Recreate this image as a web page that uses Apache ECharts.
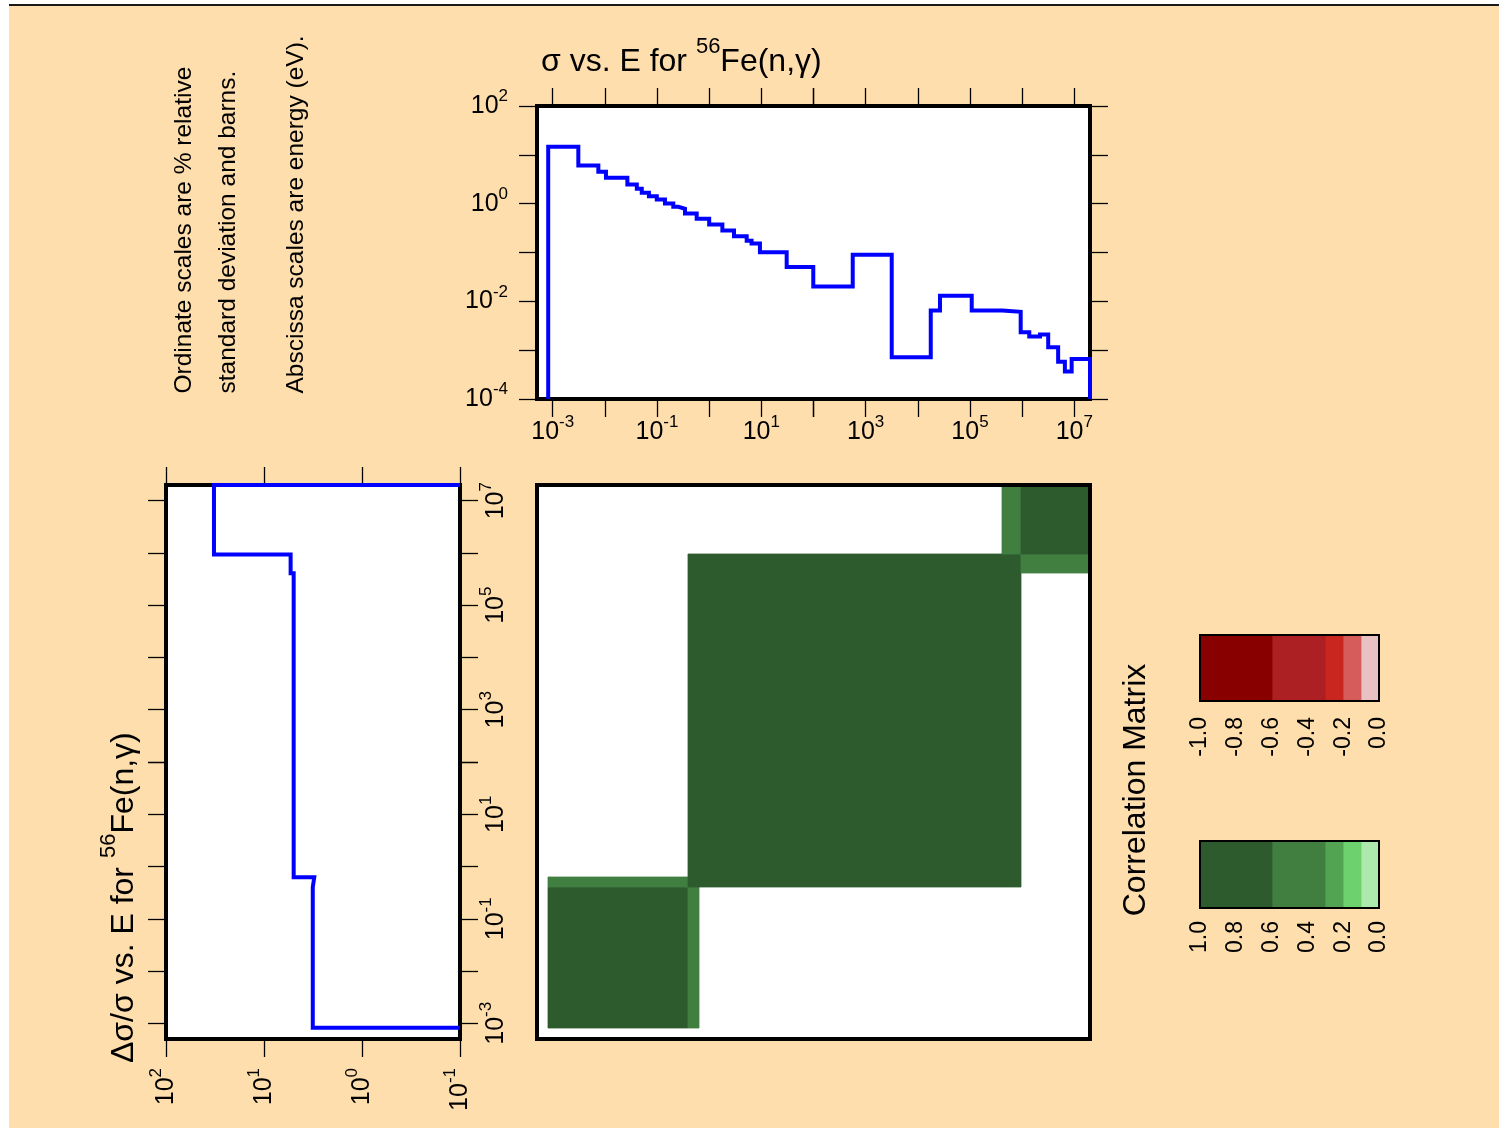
<!DOCTYPE html>
<html><head><meta charset="utf-8">
<script src="https://cdn.jsdelivr.net/npm/echarts@6/dist/echarts.min.js"></script>
<style>
html,body{margin:0;padding:0;background:#fff;}
#bg{position:absolute;left:9px;top:6px;right:0;bottom:0;background:#FFDEAD;}
#rule{position:absolute;left:9px;top:4px;right:0;height:2px;background:#1a1a1a;}
#chart{position:absolute;left:0;top:0;width:1499px;height:1128px;}
</style></head><body>
<div id="bg"></div><div id="rule"></div><div id="chart"></div>
<script>
// ---------------- data ----------------
const energyRange = [5e-4, 2e7];          // eV, shared energy axis range
const sigmaRange = [1e-4, 1e2];           // barns
const relDevRange = [0.1, 100];           // % relative std. deviation
// cross section step function (group boundaries in eV, values in barns)
const sigmaBounds = [8.2e-4, 3.1e-3, 7.5e-3, 1.05e-2, 2.7e-2, 4.1e-2, 5.1e-2, 7.0e-2, 9.9e-2, 0.142,
  0.205, 0.256, 0.344, 0.576, 1.0, 1.79, 2.99, 5.24, 6.5, 9.4, 30.6, 99, 565, 3160, 17700, 26600,
  1.08e5, 4.17e5, 9.38e5, 1.37e6, 2.2e6, 3.16e6, 4.9e6, 6.6e6, 8.9e6, 2e7];
const sigmaValues = [14.7, 6.07, 4.51, 3.39, 2.47, 2.02, 1.67, 1.42, 1.22, 1.01, 0.861, 0.784, 0.628,
  0.489, 0.373, 0.281, 0.215, 0.175, 0.152, 0.101, 0.0506, 0.0202, 0.0904, 7.18e-4, 6.5e-3, 0.013,
  6.5e-3, 6.11e-3, 2.34e-3, 1.9e-3, 2.09e-3, 1.15e-3, 5.8e-4, 3.64e-4, 6.6e-4];
// covariance group structure (eV) and relative std. deviation (%)
const groupBounds = [8.2e-4, 0.4, 0.625, 4.1e5, 9.4e5, 2e7];
const relDevValues = [3.18, 3.07, 4.98, 5.35, 32.4];
// correlation matrix (row = y group, col = x group)
const corrMatrix = [
  [1.0, 0.5, 0.0, 0.0, 0.0],
  [0.5, 1.0, 1.0, 1.0, 0.0],
  [0.0, 1.0, 1.0, 1.0, 0.0],
  [0.0, 1.0, 1.0, 1.0, 0.5],
  [0.0, 0.0, 0.0, 0.5, 1.0]
];
const corrLevels = [0, 0.1, 0.2, 0.3, 0.6, 1.0];
const greenColors = ['#ADE8AD', '#6DD16D', '#52A352', '#417F41', '#2D5B2D'];
const redColors = ['#E8C2C2', '#D65B5B', '#C8261F', '#AC1F22', '#880000'];
const decadeSpans = [[1e-3, 1e2], [1e2, 1e7]];   // helper tick ranges (each < 10 decades)
const legendTickStep = 0.2;

// ---------------- layout ----------------
const FONT = 'Liberation Sans';
const TOPBOX = {left: 537, top: 106, width: 553, height: 293};
const LEFTBOX = {left: 166, top: 485, width: 294, height: 554};
const MATBOX = {left: 537, top: 485, width: 553, height: 554};
const REDBOX = {left: 1200, top: 635, width: 179, height: 66};
const GRNBOX = {left: 1200, top: 841, width: 179, height: 67};

const L10 = Math.log10;
const eSpan = L10(energyRange[1]) - L10(energyRange[0]);
function xSub(box, lo, hi) {
  return {left: box.left + box.width * (L10(lo) - L10(energyRange[0])) / eSpan,
          width: box.width * (L10(hi) - L10(lo)) / eSpan, top: box.top, height: box.height};
}
function ySub(box, lo, hi) {
  return {top: box.top + box.height * (L10(energyRange[1]) - L10(hi)) / eSpan,
          height: box.height * (L10(hi) - L10(lo)) / eSpan, left: box.left, width: box.width};
}
function grid(box, extra) {
  return Object.assign({left: box.left, top: box.top, width: box.width, height: box.height,
    containLabel: false, outerBoundsMode: 'none', show: false}, extra || {});
}
const frameGrid = {show: true, backgroundColor: '#fff', borderColor: '#000', borderWidth: 4};

const RICH = {
  b: {fontFamily: FONT, fontSize: 25, lineHeight: 36, color: '#000'},
  s: {fontFamily: FONT, fontSize: 17, lineHeight: 17, verticalAlign: 'top', color: '#000'}
};
const tick = {show: true, inside: false, length: 18, lineStyle: {color: '#000', width: 1.3}};
function expLabel(test, margin, rotate) {
  return {show: true, margin: margin, rotate: rotate || 0, rich: RICH,
    formatter: function (v) { const e = Math.round(L10(v)); return test(e) ? '{b|10}{s|' + e + '}' : ''; }};
}
const odd = e => Math.abs(e) % 2 === 1;
const even = e => Math.abs(e) % 2 === 0;
const all = () => true;
function logAxis(gridIndex, range, extra) {
  return Object.assign({type: 'log', logBase: 10, gridIndex: gridIndex, min: range[0], max: range[1],
    axisLine: {show: false}, splitLine: {show: false}, axisTick: {show: false}, axisLabel: {show: false}}, extra || {});
}
function hidden(gridIndex) { return {type: 'value', gridIndex: gridIndex, show: false, min: 0, max: 1}; }

// ---------------- grids ----------------
const grids = [
  grid(TOPBOX, frameGrid),                                              // 0 top data
  grid(xSub(TOPBOX, decadeSpans[0][0], decadeSpans[0][1])),             // 1
  grid(xSub(TOPBOX, decadeSpans[1][0], decadeSpans[1][1])),             // 2
  grid(LEFTBOX, frameGrid),                                             // 3 left data
  grid(ySub(LEFTBOX, decadeSpans[0][0], decadeSpans[0][1])),            // 4
  grid(ySub(LEFTBOX, decadeSpans[1][0], decadeSpans[1][1])),            // 5
  grid(MATBOX, {show: true, backgroundColor: '#fff', borderWidth: 0}),  // 6 matrix
  grid(REDBOX),                                                          // 7
  grid(GRNBOX)                                                           // 8
];

const xAxes = [
  logAxis(0, energyRange),
  logAxis(1, decadeSpans[0], {position: 'bottom', axisTick: tick, axisLabel: expLabel(odd, 15)}),
  logAxis(1, decadeSpans[0], {position: 'top', axisTick: tick}),
  logAxis(2, decadeSpans[1], {position: 'bottom', axisTick: tick, axisLabel: expLabel(odd, 15)}),
  logAxis(2, decadeSpans[1], {position: 'top', axisTick: tick}),
  logAxis(3, relDevRange, {position: 'bottom', inverse: true, axisTick: tick, axisLabel: expLabel(all, 29, 90)}),
  logAxis(3, relDevRange, {position: 'top', inverse: true, axisTick: tick}),
  hidden(4),
  hidden(5),
  logAxis(6, energyRange),
  {type: 'value', gridIndex: 7, min: -1, max: 0, interval: legendTickStep, position: 'bottom',
    axisLine: {show: false}, axisTick: {show: false}, splitLine: {show: false},
    axisLabel: {show: true, rotate: 90, margin: 16, fontFamily: FONT, fontSize: 23, color: '#000',
      formatter: v => (Math.abs(v) < 1e-9 ? 0 : v).toFixed(1)}},
  {type: 'value', gridIndex: 8, min: 0, max: 1, interval: legendTickStep, inverse: true, position: 'bottom',
    axisLine: {show: false}, axisTick: {show: false}, splitLine: {show: false},
    axisLabel: {show: true, rotate: 90, margin: 13, fontFamily: FONT, fontSize: 23, color: '#000',
      formatter: v => v.toFixed(1)}}
];
const yAxes = [
  logAxis(0, sigmaRange, {position: 'left', axisTick: tick, axisLabel: expLabel(even, 29)}),
  logAxis(0, sigmaRange, {position: 'right', axisTick: tick}),
  hidden(1),
  hidden(2),
  logAxis(3, energyRange),
  logAxis(4, decadeSpans[0], {position: 'left', axisTick: tick}),
  logAxis(4, decadeSpans[0], {position: 'right', axisTick: tick, axisLabel: expLabel(odd, 18, 90)}),
  logAxis(5, decadeSpans[1], {position: 'left', axisTick: tick}),
  logAxis(5, decadeSpans[1], {position: 'right', axisTick: tick, axisLabel: expLabel(odd, 18, 90)}),
  logAxis(6, energyRange),
  hidden(7),
  hidden(8)
];

// ---------------- series data ----------------
const sigmaLine = [[sigmaBounds[0], sigmaRange[0]]];
sigmaValues.forEach((v, i) => { sigmaLine.push([sigmaBounds[i], v], [sigmaBounds[i + 1], v]); });
sigmaLine.push([sigmaBounds[sigmaBounds.length - 1], sigmaRange[0]]);

const relDevLine = [[relDevRange[0], groupBounds[0]]];
relDevValues.forEach((v, i) => { relDevLine.push([v, groupBounds[i]], [v, groupBounds[i + 1]]); });
relDevLine.push([relDevRange[0], groupBounds[groupBounds.length - 1]]);

function bandIndex(a) {
  for (let k = corrLevels.length - 2; k >= 0; k--) if (a >= corrLevels[k]) return k;
  return 0;
}
function corrColor(v) { const k = bandIndex(Math.abs(v)); return v < 0 ? redColors[k] : greenColors[k]; }
const matrixCells = [];
corrMatrix.forEach((row, i) => row.forEach((v, j) => {
  if (v !== 0) matrixCells.push([groupBounds[j], groupBounds[j + 1], groupBounds[i], groupBounds[i + 1], v]);
}));
const greenBands = corrLevels.slice(0, -1).map((lo, k) => [lo, corrLevels[k + 1], 0, 1, k]);
const redBands = corrLevels.slice(0, -1).map((lo, k) => [-corrLevels[k + 1], -lo, 0, 1, k]);

function rectItem(api, fill) {
  const p1 = api.coord([api.value(0), api.value(2)]);
  const p2 = api.coord([api.value(1), api.value(3)]);
  const x0 = Math.round(Math.min(p1[0], p2[0])), x1 = Math.round(Math.max(p1[0], p2[0]));
  const y0 = Math.round(Math.min(p1[1], p2[1])), y1 = Math.round(Math.max(p1[1], p2[1]));
  return {type: 'rect', shape: {x: x0, y: y0, width: x1 - x0, height: y1 - y0},
    style: {fill: fill, stroke: fill, lineWidth: 0.8}};
}

const stepStyle = {color: '#0000ff', width: 4, join: 'miter', cap: 'butt'};
const series = [
  {type: 'line', xAxisIndex: 0, yAxisIndex: 0, data: sigmaLine, symbol: 'none', clip: false,
    lineStyle: stepStyle, itemStyle: {color: '#0000ff'}, z: 3},
  {type: 'line', xAxisIndex: 5, yAxisIndex: 4, data: relDevLine, symbol: 'none', clip: false,
    lineStyle: stepStyle, itemStyle: {color: '#0000ff'}, z: 3},
  {type: 'custom', xAxisIndex: 9, yAxisIndex: 9, data: matrixCells, encode: {x: [0, 1], y: [2, 3]},
    renderItem: (p, api) => rectItem(api, corrColor(api.value(4)))},
  {type: 'custom', xAxisIndex: 10, yAxisIndex: 10, data: redBands, encode: {x: [0, 1], y: [2, 3]},
    renderItem: (p, api) => rectItem(api, redColors[api.value(4)])},
  {type: 'custom', xAxisIndex: 11, yAxisIndex: 11, data: greenBands, encode: {x: [0, 1], y: [2, 3]},
    renderItem: (p, api) => rectItem(api, greenColors[api.value(4)])}
];

// ---------------- texts & overlay frames ----------------
const TRICH = {
  b: {fontFamily: FONT, fontSize: 32, lineHeight: 52, fill: '#000', color: '#000'},
  s: {fontFamily: FONT, fontSize: 22, lineHeight: 22, verticalAlign: 'top', fill: '#000', color: '#000'}
};
function rtext(x, y, rot, text, rich, align, valign) {
  return {type: 'text', x: x, y: y, rotation: rot, z: 100,
    style: {text: text, rich: rich, align: align, textAlign: align, verticalAlign: valign,
      textVerticalAlign: valign, fill: '#000', fontFamily: FONT, fontSize: 32}};
}
function ptext(x, y, text, size, align, valign) {
  return {type: 'text', x: x, y: y, rotation: Math.PI / 2, z: 100,
    style: {text: text, fontFamily: FONT, fontSize: size, fill: '#000', align: align, textAlign: align,
      verticalAlign: valign, textVerticalAlign: valign}};
}
function frame(box, w) {
  return {type: 'rect', z: 100, shape: {x: box.left, y: box.top, width: box.width, height: box.height},
    style: {fill: 'transparent', stroke: '#000', lineWidth: w}};
}
const graphics = [
  rtext(541, 36.4, 0, '{b|σ vs. E for }{s|56}{b|Fe(n,γ)}', TRICH, 'left', 'top'),
  rtext(98, 1063, Math.PI / 2, '{b|Δσ/σ vs. E for }{s|56}{b|Fe(n,γ)}', TRICH, 'left', 'top'),
  ptext(184.5, 393.5, 'Ordinate scales are % relative', 24.5, 'left', 'middle'),
  ptext(228.5, 393.5, 'standard deviation and barns.', 24.5, 'left', 'middle'),
  ptext(296.5, 393.5, 'Abscissa scales are energy (eV).', 24.5, 'left', 'middle'),
  ptext(1136, 790, 'Correlation Matrix', 32, 'center', 'middle'),
  frame(MATBOX, 4),
  frame(REDBOX, 2),
  frame(GRNBOX, 2)
];

const chart = echarts.init(document.getElementById('chart'), null, {renderer: 'canvas', width: 1499, height: 1128});
chart.setOption({
  backgroundColor: 'transparent',
  animation: false,
  textStyle: {fontFamily: FONT},
  grid: grids,
  xAxis: xAxes,
  yAxis: yAxes,
  series: series,
  graphic: {elements: graphics}
});
</script>
</body></html>
